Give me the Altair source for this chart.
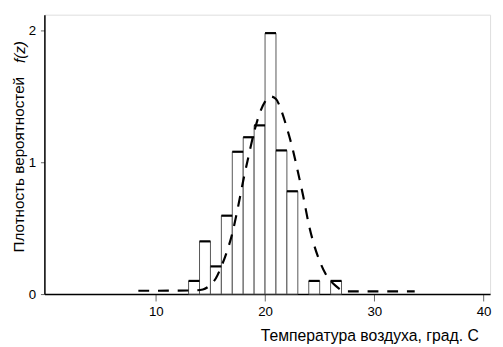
import altair as alt
import pandas as pd

# Histogram bins (left edge, right edge) and heights
bin_left = [13, 14, 15, 16, 17, 18, 19, 20, 21, 22, 24, 26]
bin_right = [14, 15, 16, 17, 18, 19, 20, 21, 22, 23, 25, 27]
density = [0.10, 0.40, 0.21, 0.595, 1.08, 1.19, 1.28, 1.98, 1.09, 0.78, 0.10, 0.10]

# Fitted density curve
curve_x = [8.4, 13.5, 14.3, 15.0, 15.5, 16.0, 16.5, 17.0, 17.5, 18.0, 18.5, 19.0,
           19.5, 20.0, 20.5, 21.0, 21.5, 22.0, 22.5, 23.0, 23.5, 24.0, 24.5, 25.0,
           25.5, 26.0, 26.5, 27.0, 27.5, 33.7]
curve_y = [0.025, 0.028, 0.035, 0.07, 0.12, 0.21, 0.32, 0.46, 0.65, 0.86, 1.05, 1.23,
           1.37, 1.46, 1.50, 1.48, 1.39, 1.26, 1.11, 0.93, 0.74, 0.53, 0.37, 0.25,
           0.16, 0.10, 0.06, 0.03, 0.02, 0.02]

x_ticks = [10, 20, 30, 40]
y_ticks = [0, 1, 2]

FONT = "Liberation Sans"

bars_df = pd.DataFrame({"x0": bin_left, "x1": bin_right, "f": density})
curve_df = pd.DataFrame({"x": curve_x, "y": curve_y})

xscale = alt.Scale(domain=[-0.2, 40.6], nice=False, zero=False)
yscale = alt.Scale(domain=[0, 2.12], nice=False)

xaxis = alt.Axis(values=x_ticks, labelExpr="format(datum.value, 'd')",
                 title="Температура воздуха, град. С", grid=False, labelOverlap=False,
                 tickSize=7, labelPadding=4, labelFontSize=13.5, labelFont=FONT,
                 labelColor="black", tickColor="#666", domainColor="black", domainWidth=1.5,
                 titleFont=FONT, titleFontSize=16, titleFontWeight="normal", titleColor="black",
                 titleX=441, titleY=47, titleAlign="right", titleBaseline="alphabetic",
                 titleAnchor="end")
yaxis = alt.Axis(values=y_ticks, labelExpr="format(datum.value, 'd')",
                 title="Плотность вероятностей", grid=False, labelOverlap=False,
                 tickSize=4, labelPadding=5, labelFontSize=13.5, labelFont=FONT,
                 labelColor="black", tickColor="#666", domainColor="black", domainWidth=1.5,
                 titleFont=FONT, titleFontSize=15.5, titleFontWeight="normal", titleColor="black",
                 titleX=-21.5, titleY=152, titleAngle=270, titleAlign="center",
                 titleBaseline="alphabetic")

base = alt.Chart(bars_df)

bars = base.mark_bar(fill="white", stroke="#555", strokeWidth=1).encode(
    x=alt.X("x0:Q", scale=xscale, axis=xaxis),
    x2="x1:Q",
    y=alt.Y("f:Q", scale=yscale, axis=yaxis),
    y2=alt.datum(0),
)

tops = base.mark_rule(color="black", strokeWidth=2.2).encode(
    x=alt.X("x0:Q", scale=xscale),
    x2="x1:Q",
    y=alt.Y("f:Q", scale=yscale),
)

curve = alt.Chart(curve_df).mark_line(
    color="black", strokeWidth=2.2, strokeDash=[11, 9], interpolate="monotone"
).encode(
    x=alt.X("x:Q", scale=xscale),
    y=alt.Y("y:Q", scale=yscale),
)

fz = alt.Chart(pd.DataFrame({"t": ["f(z)"]})).mark_text(
    font=FONT, fontSize=15.5, fontStyle="italic", angle=270, align="center",
    baseline="alphabetic", color="black"
).encode(
    text="t:N",
    x=alt.value(-20),
    y=alt.value(38),
)

chart = alt.layer(bars, tops, curve, fz).properties(
    width=453, height=284,
    autosize=alt.AutoSizeParams(type="none"),
    padding={"left": 37, "top": 4, "right": 5, "bottom": 51},
).configure_view(stroke=None).configure(background="white")

chart.save("out.html", embed_options={"renderer": "svg", "actions": False})
